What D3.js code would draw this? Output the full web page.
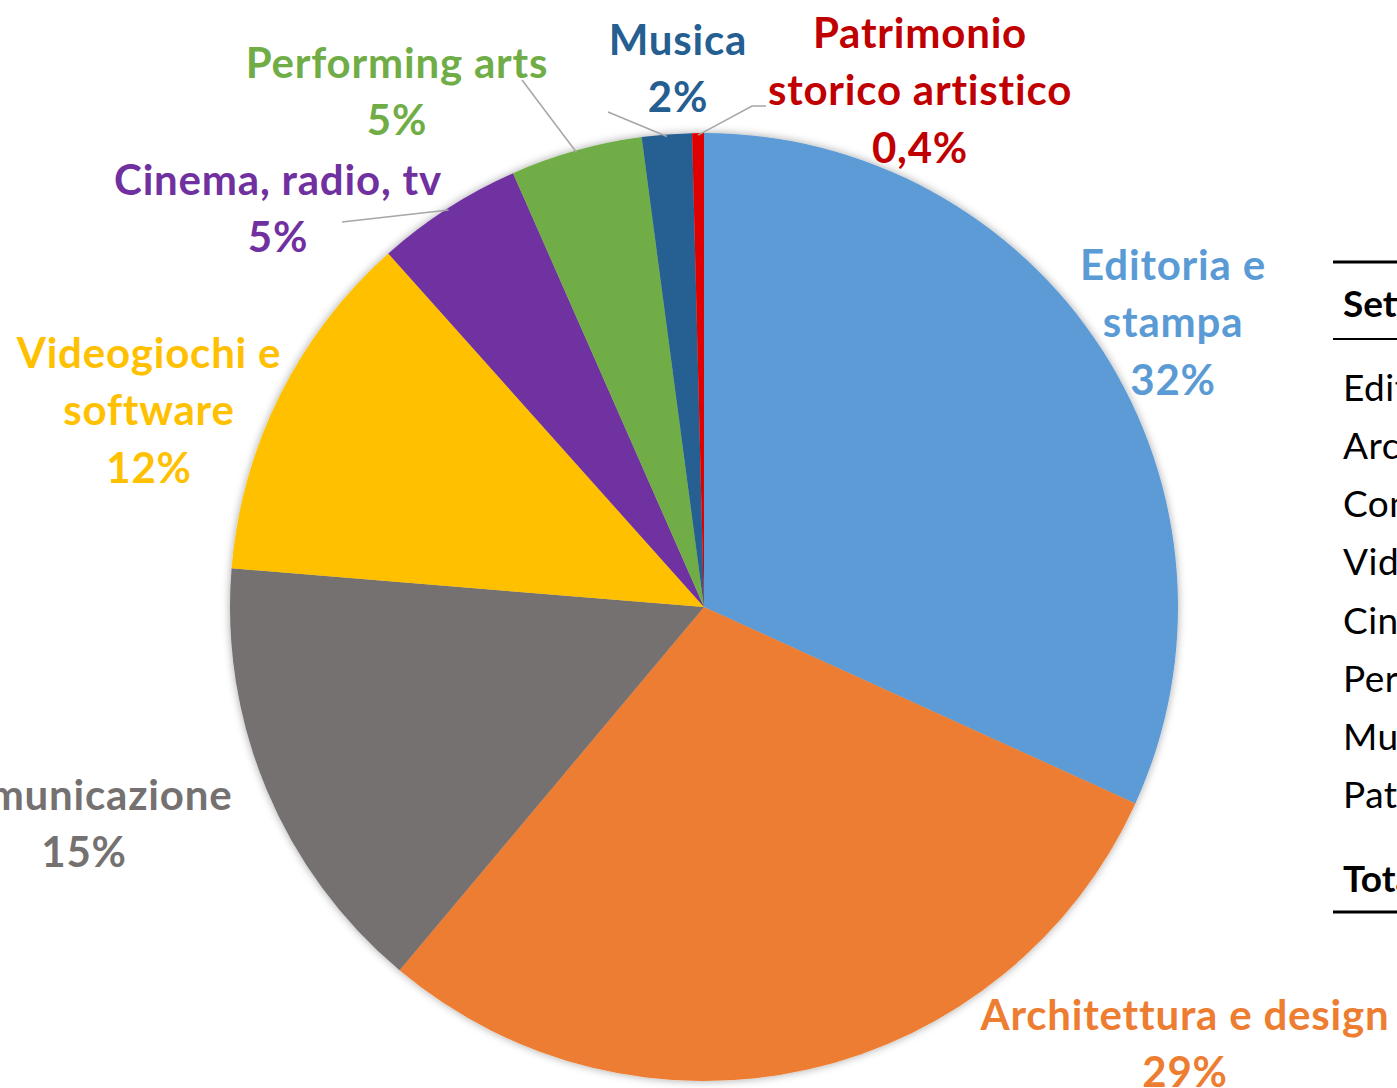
<!DOCTYPE html>
<html>
<head>
<meta charset="utf-8">
<script src="https://cdn.jsdelivr.net/npm/d3@7"></script>
<style>
  body { margin: 0; background: #fff; overflow: hidden; }
  text { font-family: Lato, "Open Sans", sans-serif; }
</style>
</head>
<body>
<script>
// data
var categories = ["Editoria e stampa", "Architettura e design", "Comunicazione",
                  "Videogiochi e software", "Cinema, radio, tv", "Performing arts",
                  "Musica", "Patrimonio storico artistico"];
var shares = [31.8, 29.3, 15.2, 12.1, 5.0, 4.5, 1.7, 0.4];
var shareLabels = ["32%", "29%", "15%", "12%", "5%", "5%", "2%", "0,4%"];
var sliceColors = ["#5B9BD5", "#ED7D31", "#757171", "#FFC000", "#7030A0", "#70AD47", "#255E91", "#E00000"];
var labelColors = ["#5B9BD5", "#ED7D31", "#757171", "#FFC000", "#7030A0", "#70AD47", "#255E91", "#C00000"];
var tableHeader = "Settore";
var tableTotal = "Totale";

// label layout: wrapped name lines, then the share
var labelLines = [
  ["Editoria e", "stampa"],
  ["Architettura e design"],
  ["Comunicazione"],
  ["Videogiochi e", "software"],
  ["Cinema, radio, tv"],
  ["Performing arts"],
  ["Musica"],
  ["Patrimonio", "storico artistico"]
];
var labelPos = [[1173, 265], [1185, 1015], [84, 795], [149, 353], [278, 180], [397, 63], [678, 40], [920, 33]];
// leader lines: points from the label side, the last one is put on the slice edge
var leaders = {4: [[342, 222]], 5: [[522, 80]], 6: [[608, 112]], 7: [[766, 106], [752, 106]]};

var W = 1397, H = 1088;
var cx = 704, cy = 607, R = 474;

var svg = d3.select("body").append("svg")
    .attr("width", W)
    .attr("height", H);

var defs = svg.append("defs");
var f = defs.append("filter").attr("id", "sh").attr("x", "-10%").attr("y", "-10%").attr("width", "120%").attr("height", "120%");
f.append("feDropShadow").attr("dx", 0).attr("dy", 0).attr("stdDeviation", 4).attr("flood-color", "#000").attr("flood-opacity", 0.35);

var pie = d3.pie().sort(null).value(function(d){ return d; });
var arcs = pie(shares);
var arc = d3.arc().innerRadius(0).outerRadius(R);

var g = svg.append("g").attr("transform", "translate(" + cx + "," + cy + ")");
g.append("g").attr("filter", "url(#sh)")
  .selectAll("path")
  .data(arcs)
  .enter()
  .append("path")
  .attr("d", arc)
  .attr("fill", function(d, i){ return sliceColors[i]; });

// leader lines
var edge = d3.arc().innerRadius(R - 2).outerRadius(R - 2);
Object.keys(leaders).forEach(function(k){
  var i = +k;
  var c = edge.centroid(arcs[i]);
  var pts = leaders[k].slice();
  pts.push([c[0] + cx, c[1] + cy]);
  svg.append("path")
    .attr("d", d3.line()(pts))
    .attr("fill", "none")
    .attr("stroke", "#a6a6a6")
    .attr("stroke-width", 1.5);
});

// slice labels
var lineH = 57.5;
labelLines.forEach(function(lines, i){
  var t = svg.append("text")
    .attr("text-anchor", "middle")
    .attr("font-weight", "bold")
    .attr("font-size", 42)
    .attr("letter-spacing", 0.8)
    .attr("fill", labelColors[i]);
  lines.concat([shareLabels[i]]).forEach(function(s, j){
    t.append("tspan")
      .attr("x", labelPos[i][0])
      .attr("y", labelPos[i][1] + j * lineH)
      .attr("dy", "0.35em")
      .text(s);
  });
});

// table on the right (cut by the page edge)
var tx = 1333, tText = 1343;
var rowY = d3.scaleLinear().domain([0, categories.length - 1]).range([388, 795]);
svg.append("line").attr("x1", tx).attr("x2", W).attr("y1", 262).attr("y2", 262).attr("stroke", "#000").attr("stroke-width", 3);
svg.append("line").attr("x1", tx).attr("x2", W).attr("y1", 339).attr("y2", 339).attr("stroke", "#000").attr("stroke-width", 2);
svg.append("line").attr("x1", tx).attr("x2", W).attr("y1", 912).attr("y2", 912).attr("stroke", "#000").attr("stroke-width", 3);
svg.append("text").attr("x", tText).attr("y", 304).attr("dy", "0.35em")
  .attr("font-size", 37).attr("font-weight", "bold").text(tableHeader);
svg.append("g").selectAll("text")
  .data(categories)
  .enter()
  .append("text")
  .attr("x", tText)
  .attr("y", function(d, i){ return rowY(i); })
  .attr("dy", "0.35em")
  .attr("font-size", 37)
  .attr("letter-spacing", 0.5)
  .text(function(d){ return d; });
svg.append("text").attr("x", tText).attr("y", 879).attr("dy", "0.35em")
  .attr("font-size", 37).attr("font-weight", "bold").text(tableTotal);
</script>
</body>
</html>
